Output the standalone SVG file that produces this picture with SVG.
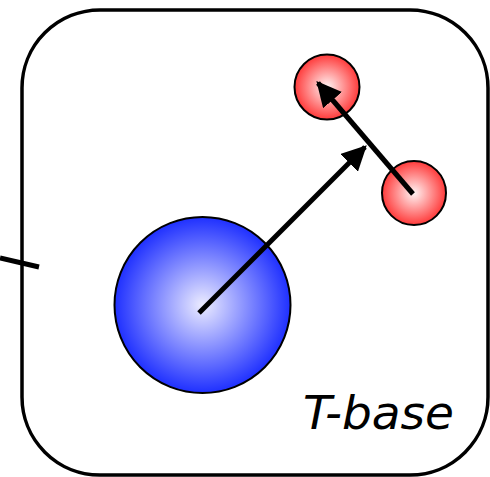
<svg xmlns="http://www.w3.org/2000/svg" width="490" height="477" viewBox="0 0 490 477">
<style>
.ball{stroke:#000;stroke-width:2}
.conn{stroke:#000;stroke-width:5;fill:none}
</style>
<defs>
<radialGradient id="gb" cx="0.5" cy="0.5" r="0.5">
<stop offset="0" stop-color="#ececff"/>
<stop offset="1" stop-color="#1f30ff"/>
</radialGradient>
<radialGradient id="gr" cx="0.5" cy="0.5" r="0.5">
<stop offset="0" stop-color="#fff4f4"/>
<stop offset="1" stop-color="#ff3a3a"/>
</radialGradient>
<marker id="ah" viewBox="0 0 10 10" refX="9" refY="5" markerWidth="5" markerHeight="5" orient="auto" markerUnits="strokeWidth">
<path d="M0,0 L10,5 L0,10 z" fill="#000"/>
</marker>
</defs>
<g id="frame">
<rect x="22" y="10" width="466" height="465" rx="78" ry="78" fill="#fff" stroke="#000" stroke-width="3.5"/>
</g>
<g id="tick">
<line x1="0" y1="258" x2="39" y2="267" stroke="#000" stroke-width="5"/>
</g>
<g id="blue">
<circle class="ball" cx="202.5" cy="305" r="88" fill="url(#gb)"/>
</g>
<g id="red1">
<circle class="ball" cx="327" cy="87" r="32.5" fill="url(#gr)"/>
</g>
<g id="red2">
<circle class="ball" cx="414" cy="193" r="32" fill="url(#gr)"/>
</g>
<g id="connectors">
<line class="conn" x1="199" y1="313" x2="365" y2="147" marker-end="url(#ah)"/>
<line class="conn" x1="413" y1="194" x2="318" y2="83" marker-end="url(#ah)"/>
</g>
<g id="label">
<text x="454" y="429" text-anchor="end" font-family="DejaVu Sans, sans-serif" font-style="italic" font-size="47">T-base</text>
</g>
</svg>
